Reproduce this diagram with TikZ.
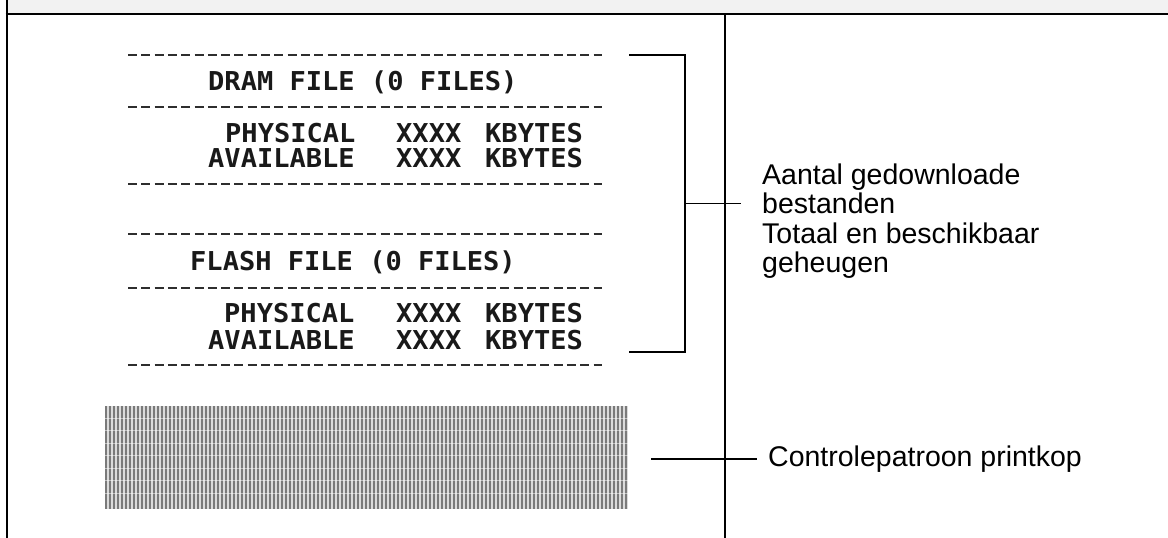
\documentclass[tikz,border=0pt]{standalone}
\usepackage{fontspec}
\setmainfont{Liberation Sans}
\newfontfamily\prtfont[FakeStretch=1.04]{DejaVu Sans Mono}
\begin{document}
\begin{tikzpicture}[x=1pt,y=-1pt,
  prt/.style={font=\prtfont\bfseries\fontsize{26}{28}\selectfont, text=black!90, inner sep=0pt, anchor=west},
  lbl/.style={font=\fontsize{28.5}{29.5}\selectfont, inner sep=0pt, anchor=west, align=left},
  dashrow/.style={draw=black!82, line width=2.5pt, dash pattern=on 9pt off 4.3pt},
  rule/.style={line width=2.3pt},
  thinline/.style={line width=1.3pt}]
\useasboundingbox (0,0) rectangle (1168,538);
% header band and table rules
\fill[black!5] (7,0) rectangle (1168,13);
\coordinate (tl) at (6.7,0);
\coordinate (bl) at (6.7,538);
\coordinate (hl) at (5.5,13.8);
\coordinate (hr) at (1168,13.8);
\coordinate (dt) at (725,13.8);
\coordinate (db) at (725,538);
\draw[rule] (tl) -- (bl);
\draw[rule] (hl) -- (hr);
\draw[rule] (dt) -- (db);
% printed dash rows
\foreach \y in {55,107,184,234,288,365}{
  \draw[dashrow] (128,\y) -- (602,\y);
}
% printed text
\node[prt] (dram) at (208,82) {DRAM FILE (0 FILES)};
\node[prt] (phys1) at (225,133) {PHYSICAL};
\node[prt] (avail1) at (208,158) {AVAILABLE};
\node[prt] (x1) at (396,133) {XXXX};
\node[prt] (x2) at (396,158) {XXXX};
\node[prt] (kb1) at (485,133) {KBYTES};
\node[prt] (kb2) at (485,158) {KBYTES};
\node[prt] (flash) at (190,262) {FLASH FILE (0 FILES)};
\node[prt] (phys2) at (224,313) {PHYSICAL};
\node[prt] (avail2) at (208,340) {AVAILABLE};
\node[prt] (x3) at (396,313) {XXXX};
\node[prt] (x4) at (396,340) {XXXX};
\node[prt] (kb3) at (485,313) {KBYTES};
\node[prt] (kb4) at (485,340) {KBYTES};
% print head test pattern
\fill[black!14] (105,406) rectangle (628,509);
\foreach \i in {0,...,130}{
  \draw[black!52, line width=1.9pt] ({106+4*\i},406) -- ({106+4*\i},509);
}
\foreach \y in {418,430,443,455,468,480,493}{
  \draw[white, opacity=0.5, line width=0.9pt] (105,\y) -- (628,\y);
}
\node[inner sep=0pt, minimum width=523pt, minimum height=103pt] (pattern) at (366.5,457.5) {};
% bracket
\coordinate (bt) at (629,55);
\coordinate (btr) at (685,55);
\coordinate (bbr) at (685,352);
\coordinate (bb) at (629,352);
\coordinate (bm) at (685,203.5);
\coordinate (tickend) at (741,203.5);
\draw[thinline] (bt) -- (btr) -- (bbr) -- (bb);
\draw[thinline] (bm) -- (tickend);
% labels
\node[lbl] (lblA) at (762,221) {Aantal gedownloade\\bestanden\\Totaal en beschikbaar\\geheugen};
\node[lbl] (lblB) at (768,459) {Controlepatroon printkop};
\coordinate (pstart) at (651,459);
\coordinate (pend) at (757,459);
\draw[thinline] (pstart) -- (pend);
\end{tikzpicture}
\end{document}
